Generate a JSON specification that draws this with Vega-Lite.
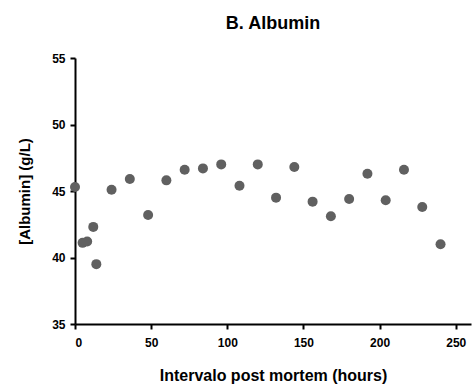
{
  "$schema": "https://vega.github.io/schema/vega-lite/v6.json",
  "autosize": {"type": "none"},
  "padding": {"left": 75, "top": 58, "right": 1, "bottom": 66},
  "width": 396,
  "height": 266,
  "background": "white",
  "title": {
    "text": "B. Albumin",
    "font": "Liberation Sans",
    "fontSize": 18,
    "fontWeight": "bold",
    "color": "black",
    "anchor": "middle",
    "frame": "group",
    "offset": 19
  },
  "config": {
    "view": {"stroke": null},
    "axis": {
      "grid": false,
      "domainColor": "black",
      "domainWidth": 2,
      "tickColor": "black",
      "tickWidth": 2,
      "tickSize": 5,
      "labelFont": "Liberation Sans",
      "labelFontSize": 12,
      "labelFontWeight": "bold",
      "labelColor": "black",
      "titleFont": "Liberation Sans",
      "titleFontWeight": "bold",
      "titleColor": "black"
    }
  },
  "data": {
    "values": [
      {"hours": 0, "albumin": 45.3},
      {"hours": 5, "albumin": 41.1},
      {"hours": 8, "albumin": 41.2},
      {"hours": 12, "albumin": 42.3},
      {"hours": 14, "albumin": 39.5},
      {"hours": 24, "albumin": 45.1},
      {"hours": 36, "albumin": 45.9},
      {"hours": 48, "albumin": 43.2},
      {"hours": 60, "albumin": 45.8},
      {"hours": 72, "albumin": 46.6},
      {"hours": 84, "albumin": 46.7},
      {"hours": 96, "albumin": 47.0},
      {"hours": 108, "albumin": 45.4},
      {"hours": 120, "albumin": 47.0},
      {"hours": 132, "albumin": 44.5},
      {"hours": 144, "albumin": 46.8},
      {"hours": 156, "albumin": 44.2},
      {"hours": 168, "albumin": 43.1},
      {"hours": 180, "albumin": 44.4},
      {"hours": 192, "albumin": 46.3},
      {"hours": 204, "albumin": 44.3},
      {"hours": 216, "albumin": 46.6},
      {"hours": 228, "albumin": 43.8},
      {"hours": 240, "albumin": 41.0}
    ]
  },
  "mark": {"type": "circle", "size": 100, "color": "#606060", "opacity": 1},
  "encoding": {
    "x": {
      "field": "hours",
      "type": "quantitative",
      "scale": {"domain": [0, 260], "nice": false, "zero": false},
      "axis": {
        "values": [0, 50, 100, 150, 200, 250],
        "labelPadding": 8,
        "title": "Intervalo post mortem (hours)",
        "titleFontSize": 16,
        "titlePadding": 19
      }
    },
    "y": {
      "field": "albumin",
      "type": "quantitative",
      "scale": {"domain": [35, 55], "nice": false, "zero": false},
      "axis": {
        "values": [35, 40, 45, 50, 55],
        "labelPadding": 5,
        "title": "[Albumin] (g/L)",
        "titleFontSize": 15,
        "titlePadding": 19
      }
    }
  }
}
